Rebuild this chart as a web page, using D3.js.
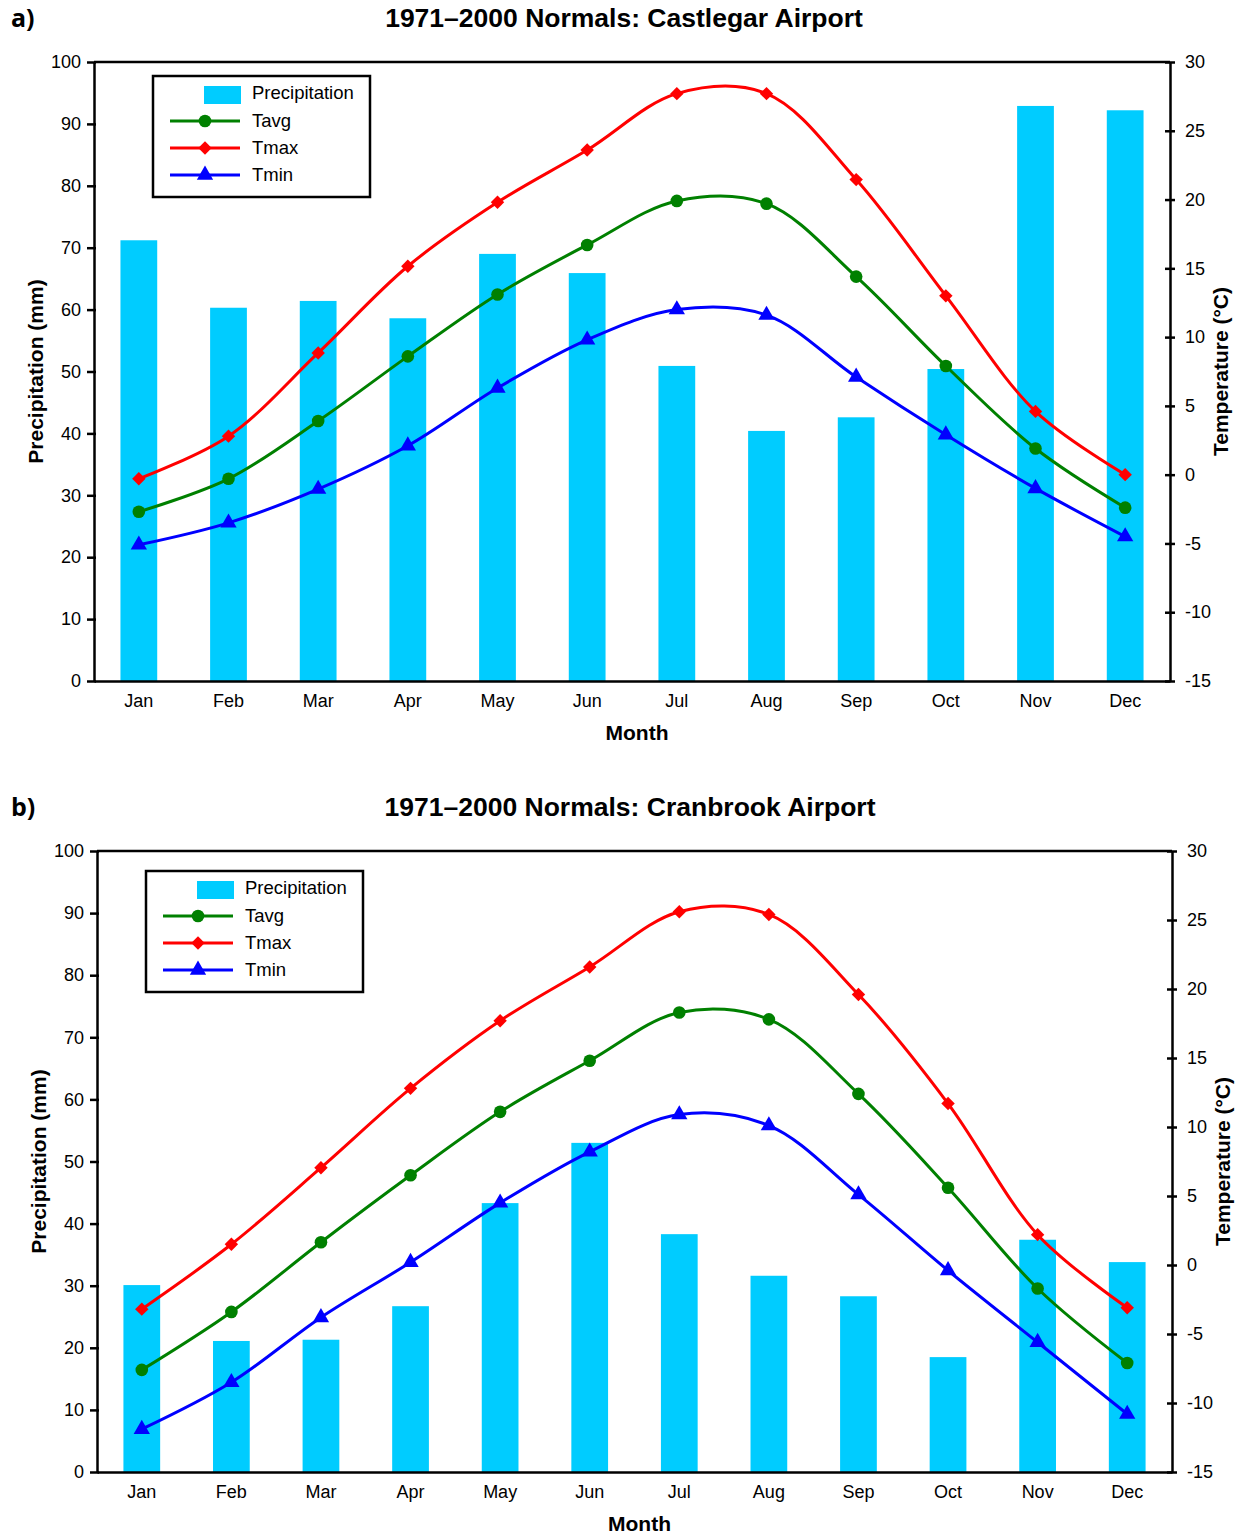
<!DOCTYPE html>
<html>
<head>
<meta charset="utf-8">
<script src="https://cdn.jsdelivr.net/npm/d3@7"></script>
<style>
  body { margin: 0; background: #fff; }
  svg { font-family: "Liberation Sans", Arial, sans-serif; }
</style>
</head>
<body>
<svg id="chart" width="1244" height="1536"></svg>
<script>
const months = ["Jan", "Feb", "Mar", "Apr", "May", "Jun", "Jul", "Aug", "Sep", "Oct", "Nov", "Dec"]
const precipTicks = [0, 10, 20, 30, 40, 50, 60, 70, 80, 90, 100]
const tempTicks = [-15, -10, -5, 0, 5, 10, 15, 20, 25, 30]

// a) Castlegar Airport
const castlegarPrecip = [71.2, 60.3, 61.4, 58.6, 69.0, 65.9, 50.9, 40.4, 42.6, 50.4, 92.9, 92.2]
const castlegarTavg = [-2.7, -0.3, 3.9, 8.6, 13.1, 16.7, 19.9, 19.7, 14.4, 7.9, 1.9, -2.4]
const castlegarTmax = [-0.3, 2.8, 8.85, 15.15, 19.8, 23.6, 27.7, 27.7, 21.45, 13.0, 4.6, 0.0]
const castlegarTmin = [-5.1, -3.5, -1.05, 2.1, 6.3, 9.8, 12.0, 11.6, 7.1, 2.9, -1.0, -4.5]

// b) Cranbrook Airport
const cranbrookPrecip = [30.1, 21.1, 21.3, 26.7, 43.3, 53.0, 38.3, 31.6, 28.3, 18.5, 37.4, 33.8]
const cranbrookTavg = [-7.6, -3.4, 1.65, 6.5, 11.1, 14.8, 18.3, 17.8, 12.4, 5.6, -1.7, -7.1]
const cranbrookTmax = [-3.2, 1.5, 7.05, 12.8, 17.7, 21.6, 25.6, 25.4, 19.6, 11.7, 2.2, -3.1]
const cranbrookTmin = [-11.9, -8.5, -3.8, 0.2, 4.5, 8.2, 10.9, 10.1, 5.1, -0.4, -5.6, -10.8]

const svg = d3.select("#chart")

// diamond = square turned 45 degrees, wider than d3.symbolDiamond
const diamond = {
  draw(ctx, size) {
    const r = Math.sqrt(size / 2)
    ctx.moveTo(0, -r)
    ctx.lineTo(r, 0)
    ctx.lineTo(0, r)
    ctx.lineTo(-r, 0)
    ctx.closePath()
  },
}

function drawPanel(opts) {
  const { letter, title, titleX, precip, tavg, tmax, tmin, left, right, top, bottom, legendX, legendY } = opts
  const g = svg.append("g")

  g.append("text")
    .attr("x", 11).attr("y", top - 35)
    .attr("font-family", "'Open Sans', sans-serif")
    .attr("font-weight", "bold").attr("font-size", 25)
    .text(letter)

  g.append("text")
    .attr("x", titleX).attr("y", top - 35)
    .attr("text-anchor", "middle")
    .attr("font-weight", "bold").attr("font-size", 26.5)
    .text(title)

  const x = d3.scaleBand().domain(months).range([left, right]).paddingInner(0.59).paddingOuter(0.295)
  const xc = d3.scaleBand().domain(months).range([left, right])
  const yP = d3.scaleLinear().domain([0, 100]).range([bottom, top])
  const yT = d3.scaleLinear().domain([-15, 30]).range([bottom, top])

  // bars
  g.selectAll(".bar")
    .data(precip)
    .join("rect")
    .attr("x", (d, i) => x(months[i]))
    .attr("width", x.bandwidth())
    .attr("y", (d) => yP(d))
    .attr("height", (d) => bottom - yP(d))
    .attr("fill", "#00ccff")

  const series = [
    { name: "Tavg", values: tavg, color: "#008000", shape: d3.symbolCircle, size: 125 },
    { name: "Tmax", values: tmax, color: "#ff0000", shape: diamond, size: 90 },
    { name: "Tmin", values: tmin, color: "#0000ff", shape: d3.symbolTriangle, size: 115 },
  ]

  const line = d3.line()
    .curve(d3.curveCatmullRom.alpha(0.5))
    .x((d, i) => xc(months[i]) + xc.bandwidth() / 2)
    .y((d) => yT(d))

  series.forEach((s) => {
    g.append("path")
      .datum(s.values)
      .attr("fill", "none")
      .attr("stroke", s.color)
      .attr("stroke-width", 3)
      .attr("d", line)
    g.selectAll(null)
      .data(s.values)
      .join("path")
      .attr("transform", (d, i) => `translate(${xc(months[i]) + xc.bandwidth() / 2},${yT(d)})`)
      .attr("d", d3.symbol(s.shape, s.size))
      .attr("fill", s.color)
  })

  // frame
  g.append("line")
    .attr("x1", left).attr("x2", right).attr("y1", top).attr("y2", top)
    .attr("stroke", "#000").attr("stroke-width", 2.5)

  // left axis
  const axL = g.append("g")
    .attr("transform", `translate(${left},0)`)
    .call(d3.axisLeft(yP).tickValues(precipTicks).tickSize(7).tickSizeOuter(0).tickPadding(6))
  axL.select(".domain").attr("stroke-width", 2.5)
  axL.selectAll(".tick line").attr("stroke-width", 2.5).attr("x2", -7).attr("x1", 2)
  axL.selectAll(".tick text").attr("font-size", 18).attr("fill", "#000")

  // right axis
  const axR = g.append("g")
    .attr("transform", `translate(${right},0)`)
    .call(d3.axisRight(yT).tickValues(tempTicks).tickFormat((d) => String(d))
      .tickSize(5).tickSizeOuter(0).tickPadding(10))
  axR.select(".domain").attr("stroke-width", 2.5)
  axR.selectAll(".tick line").attr("stroke-width", 2.5).attr("x1", -5)
  axR.selectAll(".tick text").attr("font-size", 18).attr("fill", "#000")

  // bottom axis
  const axB = g.append("g")
    .attr("transform", `translate(0,${bottom})`)
    .call(d3.axisBottom(xc).tickSize(0).tickSizeOuter(0).tickPadding(13))
  axB.select(".domain").attr("stroke-width", 2.5)
  axB.selectAll(".tick text").attr("font-size", 18).attr("fill", "#000")

  // axis titles
  g.append("text")
    .attr("x", (left + right) / 2 + 5).attr("y", bottom + 59)
    .attr("text-anchor", "middle").attr("font-weight", "bold").attr("font-size", 21)
    .text("Month")

  g.append("text")
    .attr("transform", `translate(${left - 51},${(top + bottom) / 2}) rotate(-90)`)
    .attr("text-anchor", "middle").attr("font-weight", "bold").attr("font-size", 21)
    .text("Precipitation (mm)")

  g.append("text")
    .attr("transform", `translate(${right + 58},${(top + bottom) / 2}) rotate(-90)`)
    .attr("text-anchor", "middle").attr("font-weight", "bold").attr("font-size", 21)
    .text("Temperature (°C)")

  // legend
  const lg = g.append("g").attr("transform", `translate(${legendX},${legendY})`)
  lg.append("rect")
    .attr("width", 217).attr("height", 121)
    .attr("fill", "#fff").attr("stroke", "#000").attr("stroke-width", 2.5)
  lg.append("rect")
    .attr("x", 51).attr("y", 10).attr("width", 37).attr("height", 18)
    .attr("fill", "#00ccff")
  lg.append("text")
    .attr("x", 99).attr("y", 23).attr("font-size", 18.5).text("Precipitation")
  series.forEach((s, i) => {
    const yy = 45 + i * 27
    lg.append("line")
      .attr("x1", 17).attr("x2", 87).attr("y1", yy).attr("y2", yy)
      .attr("stroke", s.color).attr("stroke-width", 3)
    lg.append("path")
      .attr("transform", `translate(52,${yy})`)
      .attr("d", d3.symbol(s.shape, s.size))
      .attr("fill", s.color)
    lg.append("text")
      .attr("x", 99).attr("y", yy + 6).attr("font-size", 18.5).text(s.name)
  })
}

drawPanel({
  letter: "a)", title: "1971–2000 Normals: Castlegar Airport", titleX: 624,
  precip: castlegarPrecip, tavg: castlegarTavg, tmax: castlegarTmax, tmin: castlegarTmin,
  left: 94, right: 1170, top: 62, bottom: 681, legendX: 153, legendY: 76,
})

drawPanel({
  letter: "b)", title: "1971–2000 Normals: Cranbrook Airport", titleX: 630,
  precip: cranbrookPrecip, tavg: cranbrookTavg, tmax: cranbrookTmax, tmin: cranbrookTmin,
  left: 97, right: 1172, top: 851, bottom: 1472, legendX: 146, legendY: 871,
})
</script>
</body>
</html>
